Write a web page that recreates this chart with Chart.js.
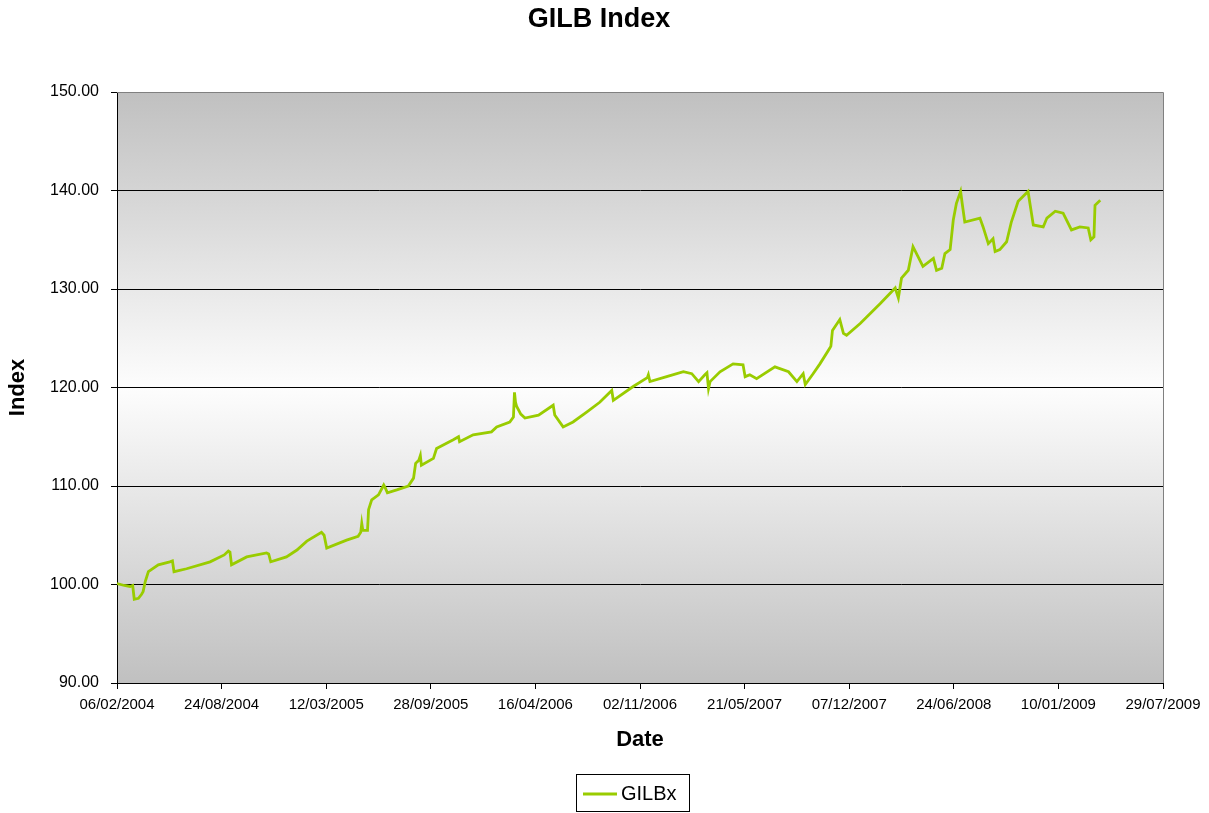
<!DOCTYPE html>
<html>
<head>
<meta charset="utf-8">
<title>GILB Index</title>
<script src="https://cdn.jsdelivr.net/npm/chart.js@4.4.0/dist/chart.umd.min.js"></script>
<style>
    html, body { margin: 0; padding: 0; background: #fff; }
    #chart-wrap { width: 1209px; height: 813px; }
</style>
</head>
<body>
<div id="chart-wrap"><canvas id="gilbChart" width="1209" height="813"></canvas></div>
<script>
// --- Data (days counted from 06/02/2004) ---
const dayOffsets = [
    0, 14, 25, 30, 33, 41, 47, 50, 54, 60, 79, 101, 106, 109, 133, 178, 205, 213, 216, 219,
    248, 286, 290, 294, 324, 344, 363, 391, 396, 401, 439, 461, 466, 468, 470, 479, 481, 487, 500, 510,
    513, 517, 535, 557, 567, 571, 577, 580, 582, 605, 611, 643, 653, 655, 681, 716, 726, 751, 758, 760,
    762, 764, 772, 780, 806, 834, 837, 853, 872, 898, 923, 946, 949, 987, 1014, 1016, 1019, 1051, 1083, 1099,
    1112, 1124, 1128, 1131, 1134, 1153, 1178, 1197, 1201, 1210, 1223, 1258, 1284, 1300, 1312, 1316, 1331, 1344, 1363, 1365,
    1368, 1382, 1389, 1395, 1421, 1459, 1488, 1494, 1500, 1513, 1522, 1541, 1561, 1567, 1577, 1583, 1593, 1599, 1605, 1613,
    1616, 1621, 1650, 1656, 1666, 1675, 1679, 1688, 1701, 1710, 1723, 1742, 1752, 1771, 1778, 1794, 1809, 1825, 1841, 1857,
    1862, 1868, 1870, 1880
];
const gilbValues = [
    100.1, 99.9, 99.8, 99.9, 98.5, 98.6, 99.0, 99.3, 100.3, 101.3, 102.0, 102.3, 102.4, 101.3, 101.6, 102.3, 103.0, 103.4, 103.3, 102.0,
    102.8, 103.2, 103.1, 102.3, 102.8, 103.5, 104.4, 105.3, 105.0, 103.7, 104.5, 104.9, 105.3, 106.2, 105.5, 105.5, 107.6, 108.6, 109.1, 110.1,
    109.8, 109.3, 109.6, 110.0, 110.8, 112.3, 112.6, 113.1, 112.1, 112.8, 113.8, 114.7, 115.0, 114.5, 115.2, 115.5, 116.0, 116.5, 117.0, 119.5,
    118.5, 118.1, 117.3, 116.9, 117.2, 118.2, 117.2, 116.0, 116.5, 117.5, 118.5, 119.7, 118.7, 120.1, 121.0, 121.3, 120.6, 121.1, 121.6, 121.4,
    120.6, 121.3, 121.5, 119.9, 120.6, 121.6, 122.4, 122.3, 121.1, 121.3, 120.9, 122.1, 121.6, 120.6, 121.4, 120.3, 121.4, 122.4, 124.0, 124.2,
    125.8, 126.9, 125.5, 125.3, 126.5, 128.5, 130.1, 129.1, 131.1, 131.9, 134.3, 132.3, 133.1, 131.9, 132.1, 133.6, 134.0, 137.0, 138.7, 139.9,
    138.7, 136.8, 137.2, 136.3, 134.6, 135.1, 133.8, 134.0, 134.8, 136.8, 138.9, 139.9, 136.5, 136.3, 137.2, 137.9, 137.7, 136.0, 136.3, 136.2,
    135.0, 135.3, 138.5, 139.0
];
const xTickLabels = [
    '06/02/2004', '24/08/2004', '12/03/2005', '28/09/2005', '16/04/2006', '02/11/2006',
    '21/05/2007', '07/12/2007', '24/06/2008', '10/01/2009', '29/07/2009'
];
const seriesName = 'GILBx';
const chartTitle = 'GILB Index';

const FONT = "'Liberation Sans', Arial, sans-serif";
const LINE_COLOR = '#99CC00';

// Excel-like plot background: gray -> white -> gray, plus gray frame top/right
const plotBackground = {
    id: 'plotBackground',
    beforeDraw(chart) {
        const { ctx, chartArea: a } = chart;
        const g = ctx.createLinearGradient(0, a.top, 0, a.bottom);
        g.addColorStop(0, '#c0c0c0');
        g.addColorStop(0.5, '#fdfdfd');
        g.addColorStop(1, '#c0c0c0');
        ctx.save();
        ctx.fillStyle = g;
        ctx.fillRect(a.left, a.top, a.right - a.left, a.bottom - a.top);
        ctx.restore();
    },
    afterDraw(chart) {
        const { ctx, chartArea: a } = chart;
        ctx.save();
        ctx.strokeStyle = '#808080';
        ctx.lineWidth = 1;
        ctx.beginPath();
        ctx.moveTo(a.left, a.top + 0.5);
        ctx.lineTo(a.right + 0.5, a.top + 0.5);
        ctx.lineTo(a.right + 0.5, a.bottom);
        ctx.stroke();
        ctx.restore();
    }
};

// Title and boxed legend, placed where the original puts them
const titleAndLegend = {
    id: 'titleAndLegend',
    afterDraw(chart) {
        const { ctx } = chart;
        const ds = chart.data.datasets[0];
        ctx.save();
        ctx.fillStyle = '#000';
        ctx.font = 'bold 27px ' + FONT;
        ctx.textAlign = 'center';
        ctx.textBaseline = 'middle';
        ctx.fillText(chartTitle, 599, 20);

        ctx.strokeStyle = '#000';
        ctx.lineWidth = 1;
        ctx.strokeRect(576.5, 774.5, 113, 37);
        ctx.strokeStyle = ds.borderColor;
        ctx.lineWidth = ds.borderWidth;
        ctx.beginPath();
        ctx.moveTo(583, 794);
        ctx.lineTo(617, 794);
        ctx.stroke();
        ctx.font = '20px ' + FONT;
        ctx.textAlign = 'left';
        ctx.fillText(ds.label, 621, 794);
        ctx.restore();
    }
};

const ctx = document.getElementById('gilbChart').getContext('2d');
new Chart(ctx, {
    type: 'line',
    data: {
        datasets: [{
            label: seriesName,
            data: dayOffsets.map((d, i) => ({ x: d, y: gilbValues[i] })),
            borderColor: LINE_COLOR,
            backgroundColor: LINE_COLOR,
            borderWidth: 2.8,
            pointRadius: 0,
            tension: 0,
            fill: false
        }]
    },
    options: {
        responsive: false,
        animation: false,
        layout: { padding: { top: 92, left: 0, right: 46, bottom: 40 } },
        plugins: {
            legend: { display: false },
            tooltip: { enabled: false },
            title: { display: false }
        },
        scales: {
            x: {
                type: 'linear',
                min: 0,
                max: 2000,
                afterFit: (scale) => { scale.height = 90; },
                border: { display: true, color: '#000', width: 1 },
                grid: { drawOnChartArea: false, drawTicks: true, tickLength: 6, tickColor: '#000' },
                ticks: {
                    stepSize: 200,
                    autoSkip: false,
                    maxRotation: 0,
                    padding: 7,
                    color: '#000',
                    font: { family: FONT, size: 15 },
                    callback: (v, i) => xTickLabels[i]
                },
                title: {
                    display: true,
                    text: 'Date',
                    color: '#000',
                    font: { family: FONT, size: 22, weight: 'bold' },
                    padding: { top: 0, bottom: 20 }
                }
            },
            y: {
                min: 90,
                max: 150,
                afterFit: (scale) => { scale.width = 117; },
                border: { display: true, color: '#000', width: 1 },
                grid: {
                    color: (c) => c.tick && c.tick.value === 150 ? '#808080' : '#000',
                    lineWidth: 1,
                    drawTicks: true,
                    tickLength: 6,
                    tickColor: '#000'
                },
                ticks: {
                    stepSize: 10,
                    padding: 12,
                    color: '#000',
                    font: { family: FONT, size: 16 },
                    callback: (v) => v.toFixed(2)
                },
                title: {
                    display: true,
                    text: 'Index',
                    color: '#000',
                    font: { family: FONT, size: 22, weight: 'bold' },
                    padding: { top: 5, bottom: 0 }
                }
            }
        }
    },
    plugins: [plotBackground, titleAndLegend]
});
</script>
</body>
</html>
